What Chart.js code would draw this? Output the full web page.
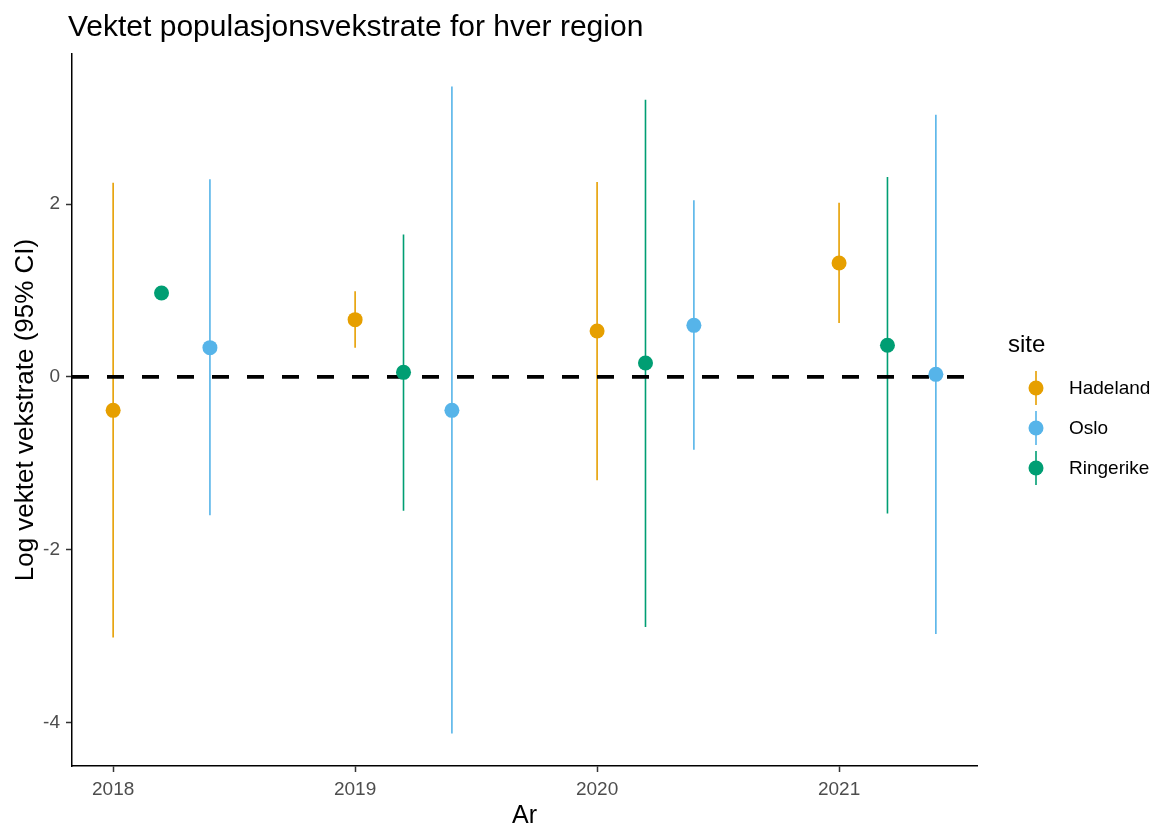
<!DOCTYPE html>
<html>
<head>
<meta charset="utf-8">
<script src="https://cdn.jsdelivr.net/npm/chart.js@4.4.0/dist/chart.umd.min.js"></script>
<style>
  html, body { margin: 0; padding: 0; background: #ffffff; }
  canvas { display: block; }
</style>
</head>
<body>
<canvas id="chart" width="1156" height="827"></canvas>
<script>
// Survey years and regions
const years = [2018, 2019, 2020, 2021];
const sites = ['Hadeland', 'Oslo', 'Ringerike'];
// dodge offset (in years) used to separate the regions within a year
const siteDodge = [0, 0.4, 0.2];
const siteColors = ['#E69F00', '#56B4E9', '#009E73'];

// Log weighted growth rate with 95% CI per region and year
const hadelandEst = [-0.388, 0.662, 0.530, 1.317];
const hadelandLow = [-3.018, 0.338, -1.198, 0.623];
const hadelandHigh = [2.248, 0.990, 2.255, 2.016];

const osloEst = [0.338, -0.388, 0.596, 0.029];
const osloLow = [-1.603, -4.130, -0.843, -2.977];
const osloHigh = [2.286, 3.362, 2.043, 3.035];

const ringerikeEst = [0.970, 0.052, 0.160, 0.365];
const ringerikeLow = [null, -1.549, -2.896, -1.583];
const ringerikeHigh = [null, 1.649, 3.208, 2.313];

const xTicks = [2018, 2019, 2020, 2021];
const yTicks = [-4, -2, 0, 2];

const estimates = [hadelandEst, osloEst, ringerikeEst];
const lows = [hadelandLow, osloLow, ringerikeLow];
const highs = [hadelandHigh, osloHigh, ringerikeHigh];

const FONT = '"Liberation Sans", Arial, Helvetica, sans-serif';

const datasets = sites.map((site, s) => ({
  label: site,
  data: years.map((yr, i) => ({
    x: yr + siteDodge[s],
    y: estimates[s][i],
    lo: lows[s][i],
    hi: highs[s][i]
  })),
  backgroundColor: siteColors[s],
  borderColor: siteColors[s],
  borderWidth: 0,
  pointRadius: 7.5,
  pointHoverRadius: 7.5,
  showLine: false
}));

// Vertical CI segments behind the points, then the dashed reference line at 0
const rangePlugin = {
  id: 'ranges',
  beforeDatasetsDraw(chart) {
    const { ctx, scales: { x, y }, chartArea } = chart;
    ctx.save();
    chart.data.datasets.forEach(ds => {
      ctx.strokeStyle = ds.borderColor;
      ctx.lineWidth = 1.6;
      ds.data.forEach(p => {
        if (p.lo == null || p.hi == null) return;
        const px = x.getPixelForValue(p.x);
        ctx.beginPath();
        ctx.moveTo(px, y.getPixelForValue(p.lo));
        ctx.lineTo(px, y.getPixelForValue(p.hi));
        ctx.stroke();
      });
    });
    const y0 = y.getPixelForValue(0);
    ctx.strokeStyle = '#000000';
    ctx.lineWidth = 3.6;
    ctx.setLineDash([17, 18]);
    ctx.beginPath();
    ctx.moveTo(chartArea.left, y0);
    ctx.lineTo(chartArea.right, y0);
    ctx.stroke();
    ctx.restore();
  }
};

// Title and the "site" key
const decorPlugin = {
  id: 'decor',
  afterDraw(chart) {
    const { ctx } = chart;
    ctx.save();
    ctx.fillStyle = '#000000';
    ctx.font = '30px ' + FONT;
    ctx.textAlign = 'left';
    ctx.textBaseline = 'alphabetic';
    ctx.fillText('Vektet populasjonsvekstrate for hver region', 68, 36);

    ctx.font = '24px ' + FONT;
    ctx.textBaseline = 'middle';
    ctx.fillText('site', 1008, 345);

    const keyX = 1036;
    const keyY = [388, 428, 468];
    sites.forEach((site, s) => {
      const cy = keyY[s];
      ctx.strokeStyle = siteColors[s];
      ctx.lineWidth = 1.6;
      ctx.beginPath();
      ctx.moveTo(keyX, cy - 17);
      ctx.lineTo(keyX, cy + 17);
      ctx.stroke();
      ctx.fillStyle = siteColors[s];
      ctx.beginPath();
      ctx.arc(keyX, cy, 7.5, 0, Math.PI * 2);
      ctx.fill();
      ctx.fillStyle = '#000000';
      ctx.font = '19px ' + FONT;
      ctx.fillText(site, 1069, cy + 1);
    });
    ctx.restore();
  }
};

new Chart(document.getElementById('chart'), {
  type: 'scatter',
  data: { datasets },
  options: {
    responsive: false,
    devicePixelRatio: 1,
    animation: false,
    layout: { padding: { top: 54, right: 179, bottom: 0, left: 0 } },
    plugins: {
      legend: { display: false },
      tooltip: { enabled: false },
      title: { display: false }
    },
    scales: {
      x: {
        type: 'linear',
        min: 2017.83,
        max: 2021.57,
        afterBuildTicks(scale) { scale.ticks = xTicks.map(v => ({ value: v })); },
        afterFit(scale) { scale.height = 61; },
        border: { display: true, color: '#000000', width: 1.5 },
        grid: { drawOnChartArea: false, drawTicks: true, tickLength: 6, tickColor: '#333333', tickWidth: 1.5 },
        ticks: {
          color: '#4d4d4d',
          font: { family: FONT, size: 19 },
          padding: 6,
          maxRotation: 0,
          callback: v => String(v)
        },
        title: {
          display: true,
          text: 'Ar',
          color: '#000000',
          font: { family: FONT, size: 25, lineHeight: 1.0 },
          padding: { top: 0, bottom: -2 }
        }
      },
      y: {
        min: -4.505,
        max: 3.737,
        afterBuildTicks(scale) { scale.ticks = yTicks.map(v => ({ value: v })); },
        afterFit(scale) { scale.width = 72; },
        border: { display: true, color: '#000000', width: 1.5 },
        grid: { drawOnChartArea: false, drawTicks: true, tickLength: 6, tickColor: '#333333', tickWidth: 1.5 },
        ticks: {
          color: '#4d4d4d',
          font: { family: FONT, size: 19 },
          padding: 6,
          callback: v => String(v)
        },
        title: {
          display: true,
          text: 'Log vektet vekstrate (95% CI)',
          color: '#000000',
          font: { family: FONT, size: 26, lineHeight: 1.0 },
          padding: { top: 13, bottom: 0 }
        }
      }
    }
  },
  plugins: [rangePlugin, decorPlugin]
});
</script>
</body>
</html>
